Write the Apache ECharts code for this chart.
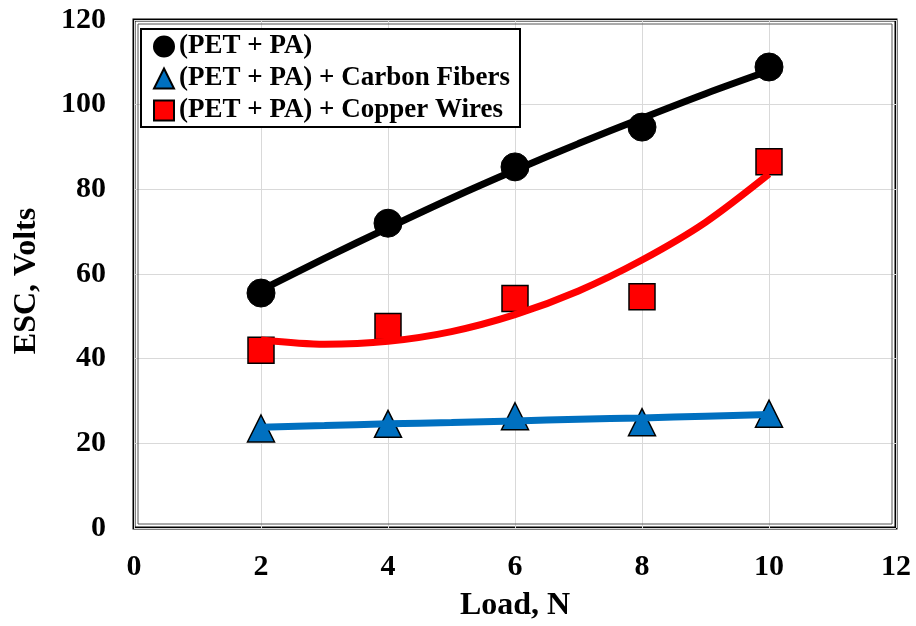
<!DOCTYPE html>
<html>
<head>
<meta charset="utf-8">
<script src="https://cdn.jsdelivr.net/npm/echarts@6/dist/echarts.min.js"></script>
<style>
html,body{margin:0;padding:0;background:#fff;}
#chart{width:916px;height:626px;}
</style>
</head>
<body>
<div id="chart"></div>
<script>
// ---- data ----
const loads = [2, 4, 6, 8, 10];
const xTicks = [0, 2, 4, 6, 8, 10, 12];
const yTicks = [0, 20, 40, 60, 80, 100, 120];
const seriesNames = ['(PET + PA)', '(PET + PA) + Carbon Fibers', '(PET + PA) + Copper Wires'];
const petPA   = [55.5, 72.0, 85.3, 94.7, 108.9];
const carbon  = [23.5, 24.6, 26.4, 25.0, 27.0];
const copper  = [42.0, 47.6, 54.2, 54.6, 86.5];
// trend-line heights at each whole load value
const trendLoads  = [2, 3, 4, 5, 6, 7, 8, 9, 10];
const petPATrend  = [56.2, 63.7, 70.9, 77.9, 84.5, 90.8, 96.8, 102.6, 108.0];
const carbonTrend = [23.8, 24.2, 24.6, 24.9, 25.3, 25.7, 26.0, 26.4, 26.8];
const copperTrend = [44.4, 43.4, 44.1, 46.4, 50.4, 56.0, 63.3, 72.2, 83.6];

const pair = (xs, ys) => xs.map((x, i) => [x, ys[i]]);
const FONT = 'Liberation Serif';

const chart = echarts.init(document.getElementById('chart'), null, {renderer: 'canvas'});

const tickStyle = {fontFamily: FONT, fontWeight: 'bold', fontSize: 30, color: '#000'};
const titleStyle = {fontFamily: FONT, fontWeight: 'bold', fontSize: 32, color: '#000'};

const option = {
  backgroundColor: '#fff',
  animation: false,
  grid: {left: 134, right: 20, top: 20, bottom: 98, containLabel: false, outerBoundsMode: 'none',
         show: true, borderColor: '#000', borderWidth: 3, backgroundColor: '#fff'},
  xAxis: {
    type: 'value', min: xTicks[0], max: xTicks[xTicks.length - 1], interval: 2,
    name: 'Load, N', nameLocation: 'middle', nameGap: 62,
    nameTextStyle: titleStyle,
    axisLine: {show: false}, axisTick: {show: false},
    axisLabel: Object.assign({margin: 24}, tickStyle),
    splitLine: {show: true, lineStyle: {color: '#d9d9d9', width: 1}}
  },
  yAxis: {
    type: 'value', min: yTicks[0], max: yTicks[yTicks.length - 1], interval: 20,
    name: 'ESC, Volts', nameLocation: 'middle', nameGap: 91, nameRotate: 90,
    nameTextStyle: Object.assign({padding: [0, 14, 0, 0]}, titleStyle),
    axisLine: {show: false}, axisTick: {show: false},
    axisLabel: Object.assign({margin: 28}, tickStyle),
    splitLine: {show: true, lineStyle: {color: '#d9d9d9', width: 1}}
  },
  legend: {
    data: seriesNames.map(n => ({name: n})),
    orient: 'vertical', left: 141, top: 29,
    backgroundColor: '#fff', borderColor: '#000', borderWidth: 2,
    padding: [4, 10, 3, 12], itemGap: 5, itemWidth: 20, itemHeight: 20,
    selectedMode: false,
    textStyle: {fontFamily: FONT, fontWeight: 'bold', fontSize: 27, color: '#000', lineHeight: 27, padding: [0, 0, 0, 0]}
  },
  series: [
    {name: seriesNames[0], type: 'scatter', data: pair(loads, petPA), symbol: 'circle', symbolSize: 28,
     itemStyle: {color: '#000', borderColor: '#000', borderWidth: 1, opacity: 1}, z: 3},
    {name: seriesNames[1], type: 'scatter', data: pair(loads, carbon), symbol: 'triangle', symbolSize: 27,
     itemStyle: {color: '#0070C0', borderColor: '#000', borderWidth: 1.5, opacity: 1}, z: 3},
    {name: seriesNames[2], type: 'scatter', data: pair(loads, copper), symbol: 'rect', symbolSize: 26,
     itemStyle: {color: '#FF0000', borderColor: '#000', borderWidth: 1.5, opacity: 1}, z: 3},
    {name: 'trend1', type: 'line', data: pair(trendLoads, petPATrend), smooth: 0.3, showSymbol: false, symbol: 'none',
     lineStyle: {color: '#000', width: 7}, z: 4, silent: true},
    {name: 'trend2', type: 'line', data: pair(trendLoads, carbonTrend), smooth: 0.3, showSymbol: false, symbol: 'none',
     lineStyle: {color: '#0070C0', width: 7}, z: 4, silent: true},
    {name: 'trend3', type: 'line', data: pair(trendLoads, copperTrend), smooth: 0.3, showSymbol: false, symbol: 'none',
     lineStyle: {color: '#FF0000', width: 7}, z: 4, silent: true}
  ]
};
chart.setOption(option);

// inner thin frame line (double border look)
const p0 = chart.convertToPixel({gridIndex: 0}, [xTicks[0], yTicks[0]]);
const p1 = chart.convertToPixel({gridIndex: 0}, [xTicks[xTicks.length - 1], yTicks[yTicks.length - 1]]);
chart.setOption({
  graphic: [{
    type: 'rect', silent: true, z: 1,
    shape: {x: p0[0] + 4, y: p1[1] + 4, width: (p1[0] - p0[0]) - 8, height: (p0[1] - p1[1]) - 8},
    style: {fill: 'none', stroke: '#555', lineWidth: 1}
  }]
});
</script>
</body>
</html>
